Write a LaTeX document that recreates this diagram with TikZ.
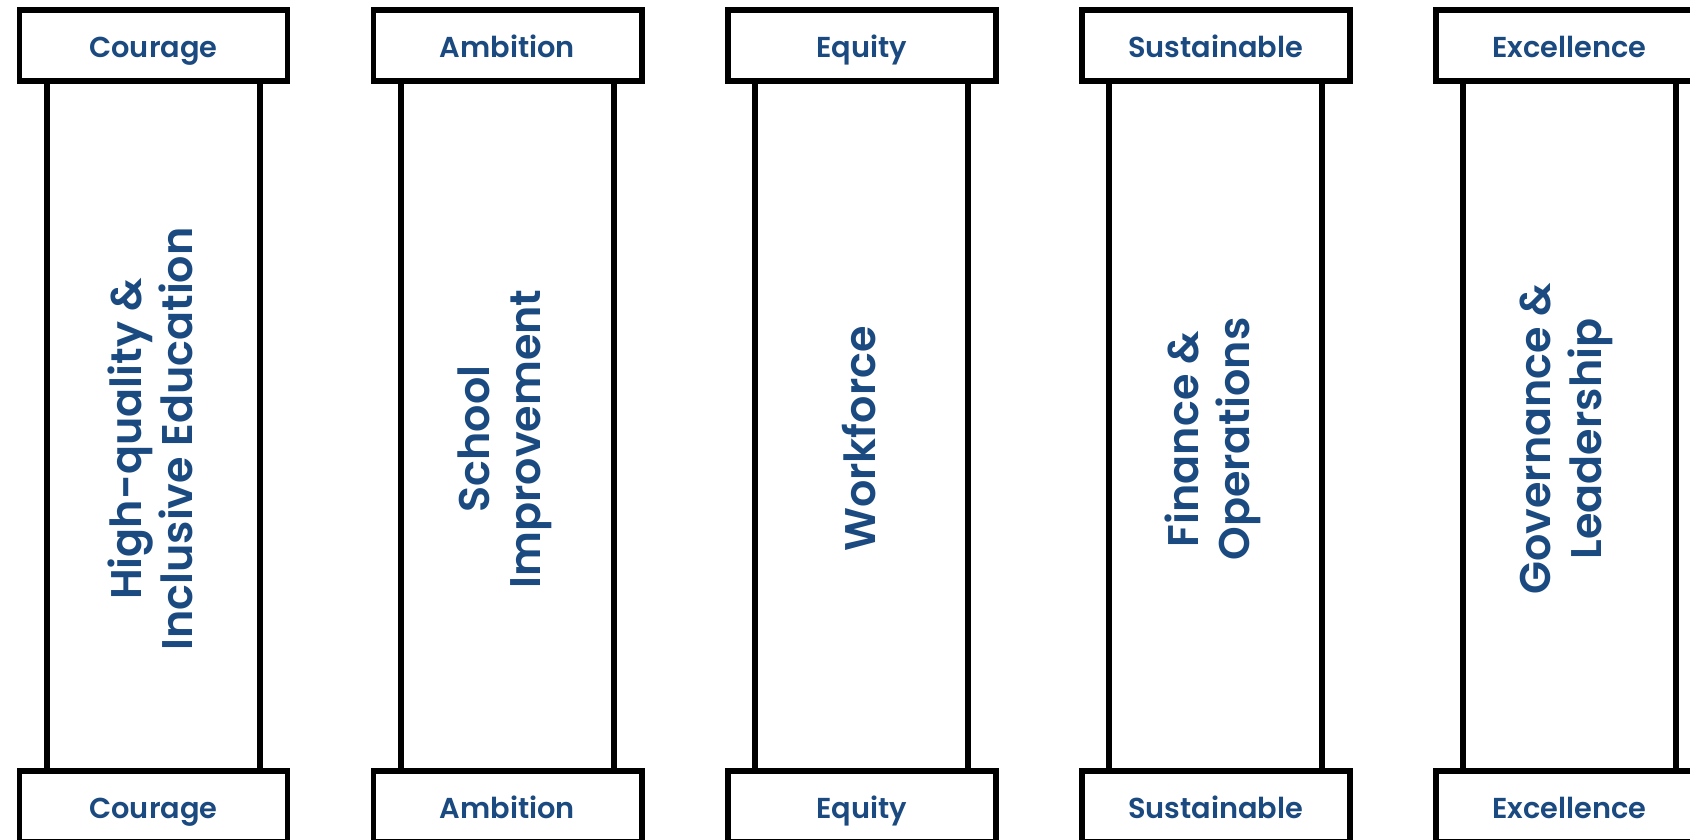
\documentclass[tikz,border=0pt]{standalone}
\usepackage{fontspec}
\newfontfamily\pillarfont{Poppins}[UprightFont={* SemiBold}]
\usepackage{tikz}
\usetikzlibrary{positioning}
\definecolor{pillarblue}{HTML}{1B4A80}
\newcommand{\tikzPillarNode}[4]{
  \node[pillarshaft] (#1) at (#2) {};
  \node[pillarcap,above=0cm of #1] (#1top) {#3};
  \node[pillarcap,below=0cm of #1] (#1bot) {#3};
  \node[pillartext] (#1txt) at ([xshift=-0.03cm,yshift=-0.13cm]#1.center) {#4};
}

\begin{document}
\begin{tikzpicture}[
    pillarshaft/.style={draw,line width=1.6pt,fill=white,inner sep=0pt,outer sep=0pt,minimum width=2.13cm,minimum height=6.9cm},
    pillarcap/.style={draw,line width=1.7pt,fill=white,inner sep=0pt,outer sep=0pt,minimum width=2.68cm,minimum height=0.71cm,text height=0.7em,text depth=0pt,text=pillarblue,font=\pillarfont\fontsize{8.2}{10}\selectfont},
    pillartext/.style={rotate=90,align=center,text=pillarblue,font=\pillarfont\fontsize{12.2}{14.5}\selectfont}]
  \useasboundingbox (0,0) rectangle (16.9,8.39);
  \clip (0,0) rectangle (16.9,8.39);
  \tikzPillarNode{courage}{1.535,4.13}{Courage}{High-quality \&\\Inclusive Education}
  \tikzPillarNode{ambition}{5.075,4.13}{Ambition}{School\\Improvement}
  \tikzPillarNode{equity}{8.615,4.13}{Equity}{Workforce}
  \tikzPillarNode{sustain}{12.155,4.13}{Sustainable}{Finance \&\\Operations}
  \tikzPillarNode{excel}{15.695,4.13}{Excellence}{Governance \&\\Leadership}
\end{tikzpicture}
\end{document}
